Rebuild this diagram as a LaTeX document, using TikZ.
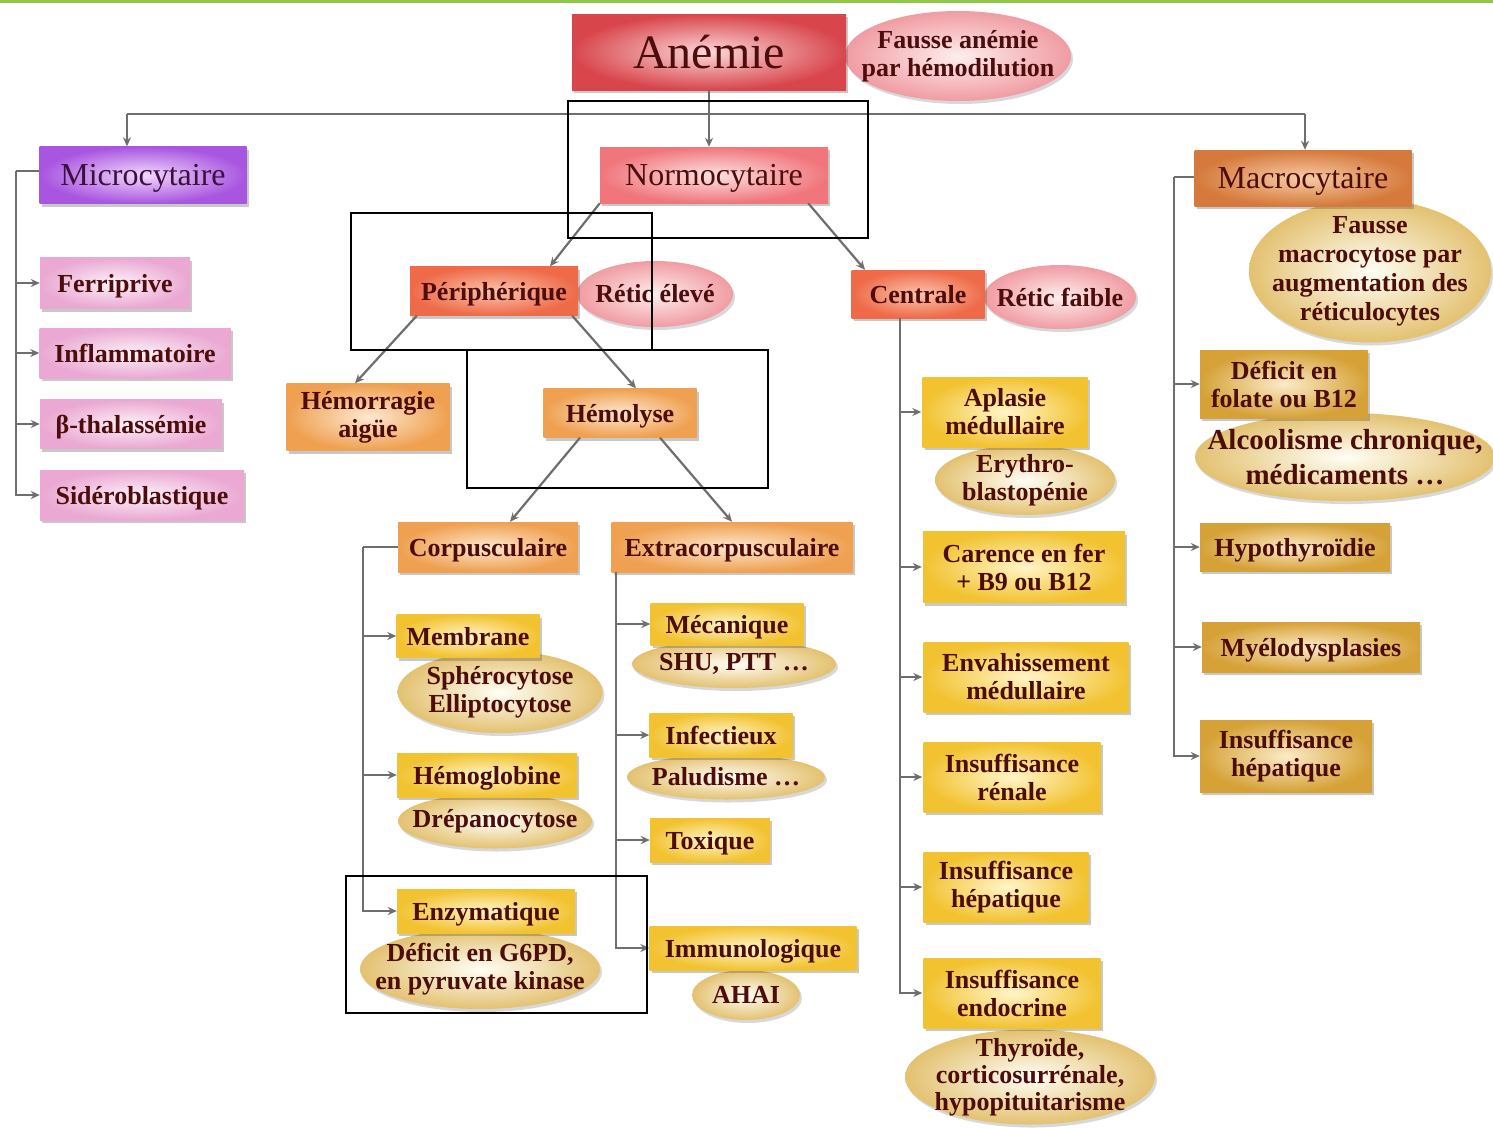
\documentclass[tikz,border=0pt]{standalone}
\usepackage{fontspec}
\setmainfont{Liberation Serif}
\usetikzlibrary{shapes.geometric,arrows.meta,shadows}

\definecolor{txt}{HTML}{4D0D0D}
\definecolor{txtpurple}{HTML}{3A1040}
\definecolor{linegray}{HTML}{6E6E6E}
\definecolor{topgreen}{HTML}{92C84A}
\definecolor{redEdge}{HTML}{D8464C}\definecolor{redLight}{HTML}{FBD8D9}
\definecolor{normoEdge}{HTML}{F0767C}\definecolor{normoLight}{HTML}{FDE2E2}
\definecolor{purpleEdge}{HTML}{A855E0}\definecolor{purpleLight}{HTML}{F3D8FB}
\definecolor{pinkEdge}{HTML}{EAA8D2}\definecolor{pinkLight}{HTML}{FDF2F8}
\definecolor{periEdge}{HTML}{EE6A48}\definecolor{periLight}{HTML}{FCC4AC}
\definecolor{orangeEdge}{HTML}{EFA050}\definecolor{orangeLight}{HTML}{FDE8D0}
\definecolor{macroEdge}{HTML}{D57A3C}\definecolor{macroLight}{HTML}{F8CCA6}
\definecolor{yellowEdge}{HTML}{F2C230}\definecolor{yellowLight}{HTML}{FFF5C8}
\definecolor{goldEdge}{HTML}{D6A238}\definecolor{goldLight}{HTML}{FBEBC8}
\definecolor{creamOuter}{HTML}{E3C170}\definecolor{creamInner}{HTML}{FFFEF6}
\definecolor{rosyOuter}{HTML}{F09CA2}\definecolor{rosyInner}{HTML}{FDEEEE}

\newcommand\bxfont{\fontsize{26}{28}\selectfont\bfseries}
\newcommand\titlefont{\fontsize{32}{34}\selectfont}

\tikzset{
  conn/.style={draw=linegray, line width=2.2pt},
  arr/.style={conn, -{Stealth[length=9pt,width=8pt]}},
  box/.style={rectangle, inner sep=0pt, align=center, text=txt, font=\bxfont,
    drop shadow={shadow xshift=2pt, shadow yshift=-3pt, opacity=0.3, fill=black!70}},
  oneline/.style={text depth=0pt},
  % the ellipse size is set by minimum width/height only; text may reach its rim
  oval/.style={ellipse, inner xsep=-400pt, inner ysep=-400pt, align=center, text=txt, font=\bxfont,
    drop shadow={shadow xshift=2pt, shadow yshift=-3pt, opacity=0.25, fill=black!60}},
  sz/.style 2 args={minimum width=#1pt, minimum height=#2pt},
  redbox/.style={box, inner color=redLight, outer color=redEdge},
  normobox/.style={box, inner color=normoLight, outer color=normoEdge},
  purplebox/.style={box, inner color=purpleLight, outer color=purpleEdge},
  pinkbox/.style={box, oneline, inner color=pinkLight, outer color=pinkEdge},
  peribox/.style={box, oneline, inner color=periLight, outer color=periEdge},
  orangebox/.style={box, inner color=orangeLight, outer color=orangeEdge},
  macrobox/.style={box, inner color=macroLight, outer color=macroEdge},
  yellowbox/.style={box, inner color=yellowLight, outer color=yellowEdge},
  goldbox/.style={box, inner color=goldLight, outer color=goldEdge},
  creamoval/.style={oval, inner color=creamInner, outer color=creamOuter},
  rosyoval/.style={oval, inner color=rosyInner, outer color=rosyOuter},
  frame/.style={draw=black, line width=1.6pt}
}

\begin{document}
\begin{tikzpicture}[x=1pt, y=-1pt]
\useasboundingbox (0,0) rectangle (1493,1127);
\fill[white] (0,0) rectangle (1493,1127);
\fill[topgreen] (0,0) rectangle (1493,2.5);

% ---------- ellipses (drawn first, boxes sit over their edges) ----------
\node[rosyoval, sz={226}{90}] (fausse) at (958,56) {Fausse anémie\\par hémodilution};
\node[rosyoval, sz={156}{66}] (reticE) at (655,294) {Rétic élevé};
\node[rosyoval, sz={152}{64}] (reticF) at (1060,297) {Rétic faible};
\node[creamoval, sz={205}{82}] (sphero) at (500,692) {Sphérocytose\\Elliptocytose};
\node[creamoval, sz={194}{55}] (drepa) at (495,821) {Drépanocytose};
\node[creamoval, sz={240}{80}] (g6pd) at (480,969) {Déficit en G6PD,\\en pyruvate kinase};
\node[creamoval, sz={204}{48}] (shu) at (734,664) {SHU, PTT …};
\node[creamoval, sz={198}{45}] (palu) at (726,777) {Paludisme …};
\node[creamoval, sz={108}{50}] (ahai) at (746,995) {AHAI};
\node[creamoval, sz={180}{70}] (erythro) at (1025,480) {Erythro-\\blastopénie};
\node[creamoval, sz={250}{95}, font=\fontsize{26}{27}\selectfont\bfseries] (thyro) at (1030,1077) {Thyroïde,\\corticosurrénale,\\hypopituitarisme};
\node[creamoval, sz={242}{143}, font=\fontsize{26}{29}\selectfont\bfseries] (fmacro) at (1370,271) {Fausse\\macrocytose par\\augmentation des\\réticulocytes};
\node[creamoval, sz={300}{88}, font=\fontsize{29}{35}\selectfont\bfseries] (alcool) at (1345,457) {Alcoolisme chronique,\\médicaments …};

% ---------- boxes ----------
\node[redbox, oneline, sz={274}{76}, font=\fontsize{48}{50}\selectfont] (anemie) at (709,52) {Anémie};
\node[purplebox, oneline, sz={207}{57}, font=\titlefont, text=txtpurple] (micro) at (143,175) {Microcytaire};
\node[normobox, oneline, sz={228}{56}, font=\titlefont] (normo) at (714,175) {Normocytaire};
\node[macrobox, oneline, sz={217}{56}, font=\titlefont] (macro) at (1303,178) {Macrocytaire};

\node[pinkbox, sz={150}{51}] (ferri) at (115,283) {Ferriprive};
\node[pinkbox, sz={191}{50}] (infl) at (135,353) {Inflammatoire};
\node[pinkbox, sz={182}{49}] (beta) at (131,424) {β-thalassémie};
\node[pinkbox, sz={204}{50}] (sidero) at (142,495) {Sidéroblastique};

\node[peribox, sz={168}{49}] (peri) at (494,291) {Périphérique};
\node[peribox, sz={133}{48}] (centrale) at (918,294) {Centrale};

\node[orangebox, sz={163}{67}] (hemorr) at (368,417) {Hémorragie\\aigüe};
\node[orangebox, oneline, sz={153}{49}] (hemol) at (620,413) {Hémolyse};
\node[orangebox, oneline, sz={180}{50}] (corpus) at (488,547) {Corpusculaire};
\node[orangebox, oneline, sz={241}{50}] (extra) at (732,547) {Extracorpusculaire};

\node[yellowbox, oneline, sz={143}{43}] (membr) at (468,636) {Membrane};
\node[yellowbox, oneline, sz={180}{44}] (hemog) at (487,775) {Hémoglobine};
\node[yellowbox, oneline, sz={178}{44}] (enzym) at (486,911) {Enzymatique};

\node[yellowbox, oneline, sz={153}{42}] (meca) at (727,624) {Mécanique};
\node[yellowbox, oneline, sz={143}{44}] (infect) at (721,735) {Infectieux};
\node[yellowbox, oneline, sz={120}{44}] (toxi) at (710,840) {Toxique};
\node[yellowbox, oneline, sz={207}{44}] (immuno) at (753,948) {Immunologique};

\node[yellowbox, sz={165}{70}] (aplasie) at (1005,412) {Aplasie\\médullaire};
\node[yellowbox, sz={202}{71}] (carence) at (1024,567) {Carence en fer\\+ B9 ou B12};
\node[yellowbox, sz={205}{70}] (envah) at (1026,677) {Envahissement\\médullaire};
\node[yellowbox, sz={177}{70}] (irenale) at (1012,777) {Insuffisance\\rénale};
\node[yellowbox, sz={165}{70}] (ihepat) at (1006,887) {Insuffisance\\hépatique};
\node[yellowbox, sz={177}{70}] (iendoc) at (1012,993) {Insuffisance\\endocrine};

\node[goldbox, sz={168}{68}] (folate) at (1284,384) {Déficit en\\folate ou B12};
\node[goldbox, oneline, sz={190}{48}] (hypo) at (1295,547) {Hypothyroïdie};
\node[goldbox, oneline, sz={218}{50}] (myelo) at (1311,647) {Myélodysplasies};
\node[goldbox, sz={172}{72}] (ihep2) at (1286,756) {Insuffisance\\hépatique};

% ---------- connectors ----------
\coordinate (hl) at (127,114);
\coordinate (hr) at (1305,114);
\draw[conn] (hl) -- (hr);
\draw[arr] (anemie.south) -- (anemie.south |- normo.north);
\draw[arr] (hl) -- (hl |- micro.north);
\draw[arr] (hr) -- (hr |- macro.north);

% microcytic branch
\coordinate (mbr) at (16,171);
\draw[conn] (micro.west |- mbr) -- (mbr);
\foreach \n in {ferri,infl,beta,sidero}
  \draw[arr] (mbr) |- (\n.west);

% normocytic branch
\draw[arr] (normo.south west) -- ([xshift=56pt]peri.north);
\draw[arr] ([xshift=-20pt]normo.south east) -- ([xshift=-53pt]centrale.north);
\draw[arr] ([xshift=7pt]peri.south west) -- ([xshift=-13pt]hemorr.north);
\draw[arr] ([xshift=-6pt]peri.south east) -- ([xshift=16pt]hemol.north);
\draw[arr] ([xshift=-40pt]hemol.south) -- ([xshift=22pt]corpus.north);
\draw[arr] ([xshift=40pt]hemol.south) -- (extra.north);

% corpuscular causes
\coordinate (cbr) at ([xshift=-35pt]corpus.west);
\draw[conn] (corpus.west) -- (cbr);
\foreach \n in {membr,hemog,enzym}
  \draw[arr] (cbr) |- (\n.west);

% extracorpuscular causes
\coordinate (ebr) at ([xshift=5pt]extra.south west);
\foreach \n in {meca,infect,toxi,immuno}
  \draw[arr] (ebr) |- (\n.west);

% central causes
\coordinate (zbr) at ([xshift=49pt]centrale.south west);
\foreach \n in {aplasie,carence,envah,irenale,ihepat,iendoc}
  \draw[arr] (zbr) |- ([xshift=-1pt]\n.west);

% macrocytic branch
\coordinate (kbr) at (1174,177);
\draw[conn] (macro.west |- kbr) -- (kbr);
\foreach \n in {folate,hypo,myelo,ihep2}
  \draw[arr] (kbr) |- (\n.west);

% ---------- highlight frames ----------
\draw[frame] (568,101) rectangle (868,238);
\draw[frame] (351,213) rectangle (652,350);
\draw[frame] (467,350) rectangle (768,488);
\draw[frame] (346,876) rectangle (647,1013);
\end{tikzpicture}
\end{document}
